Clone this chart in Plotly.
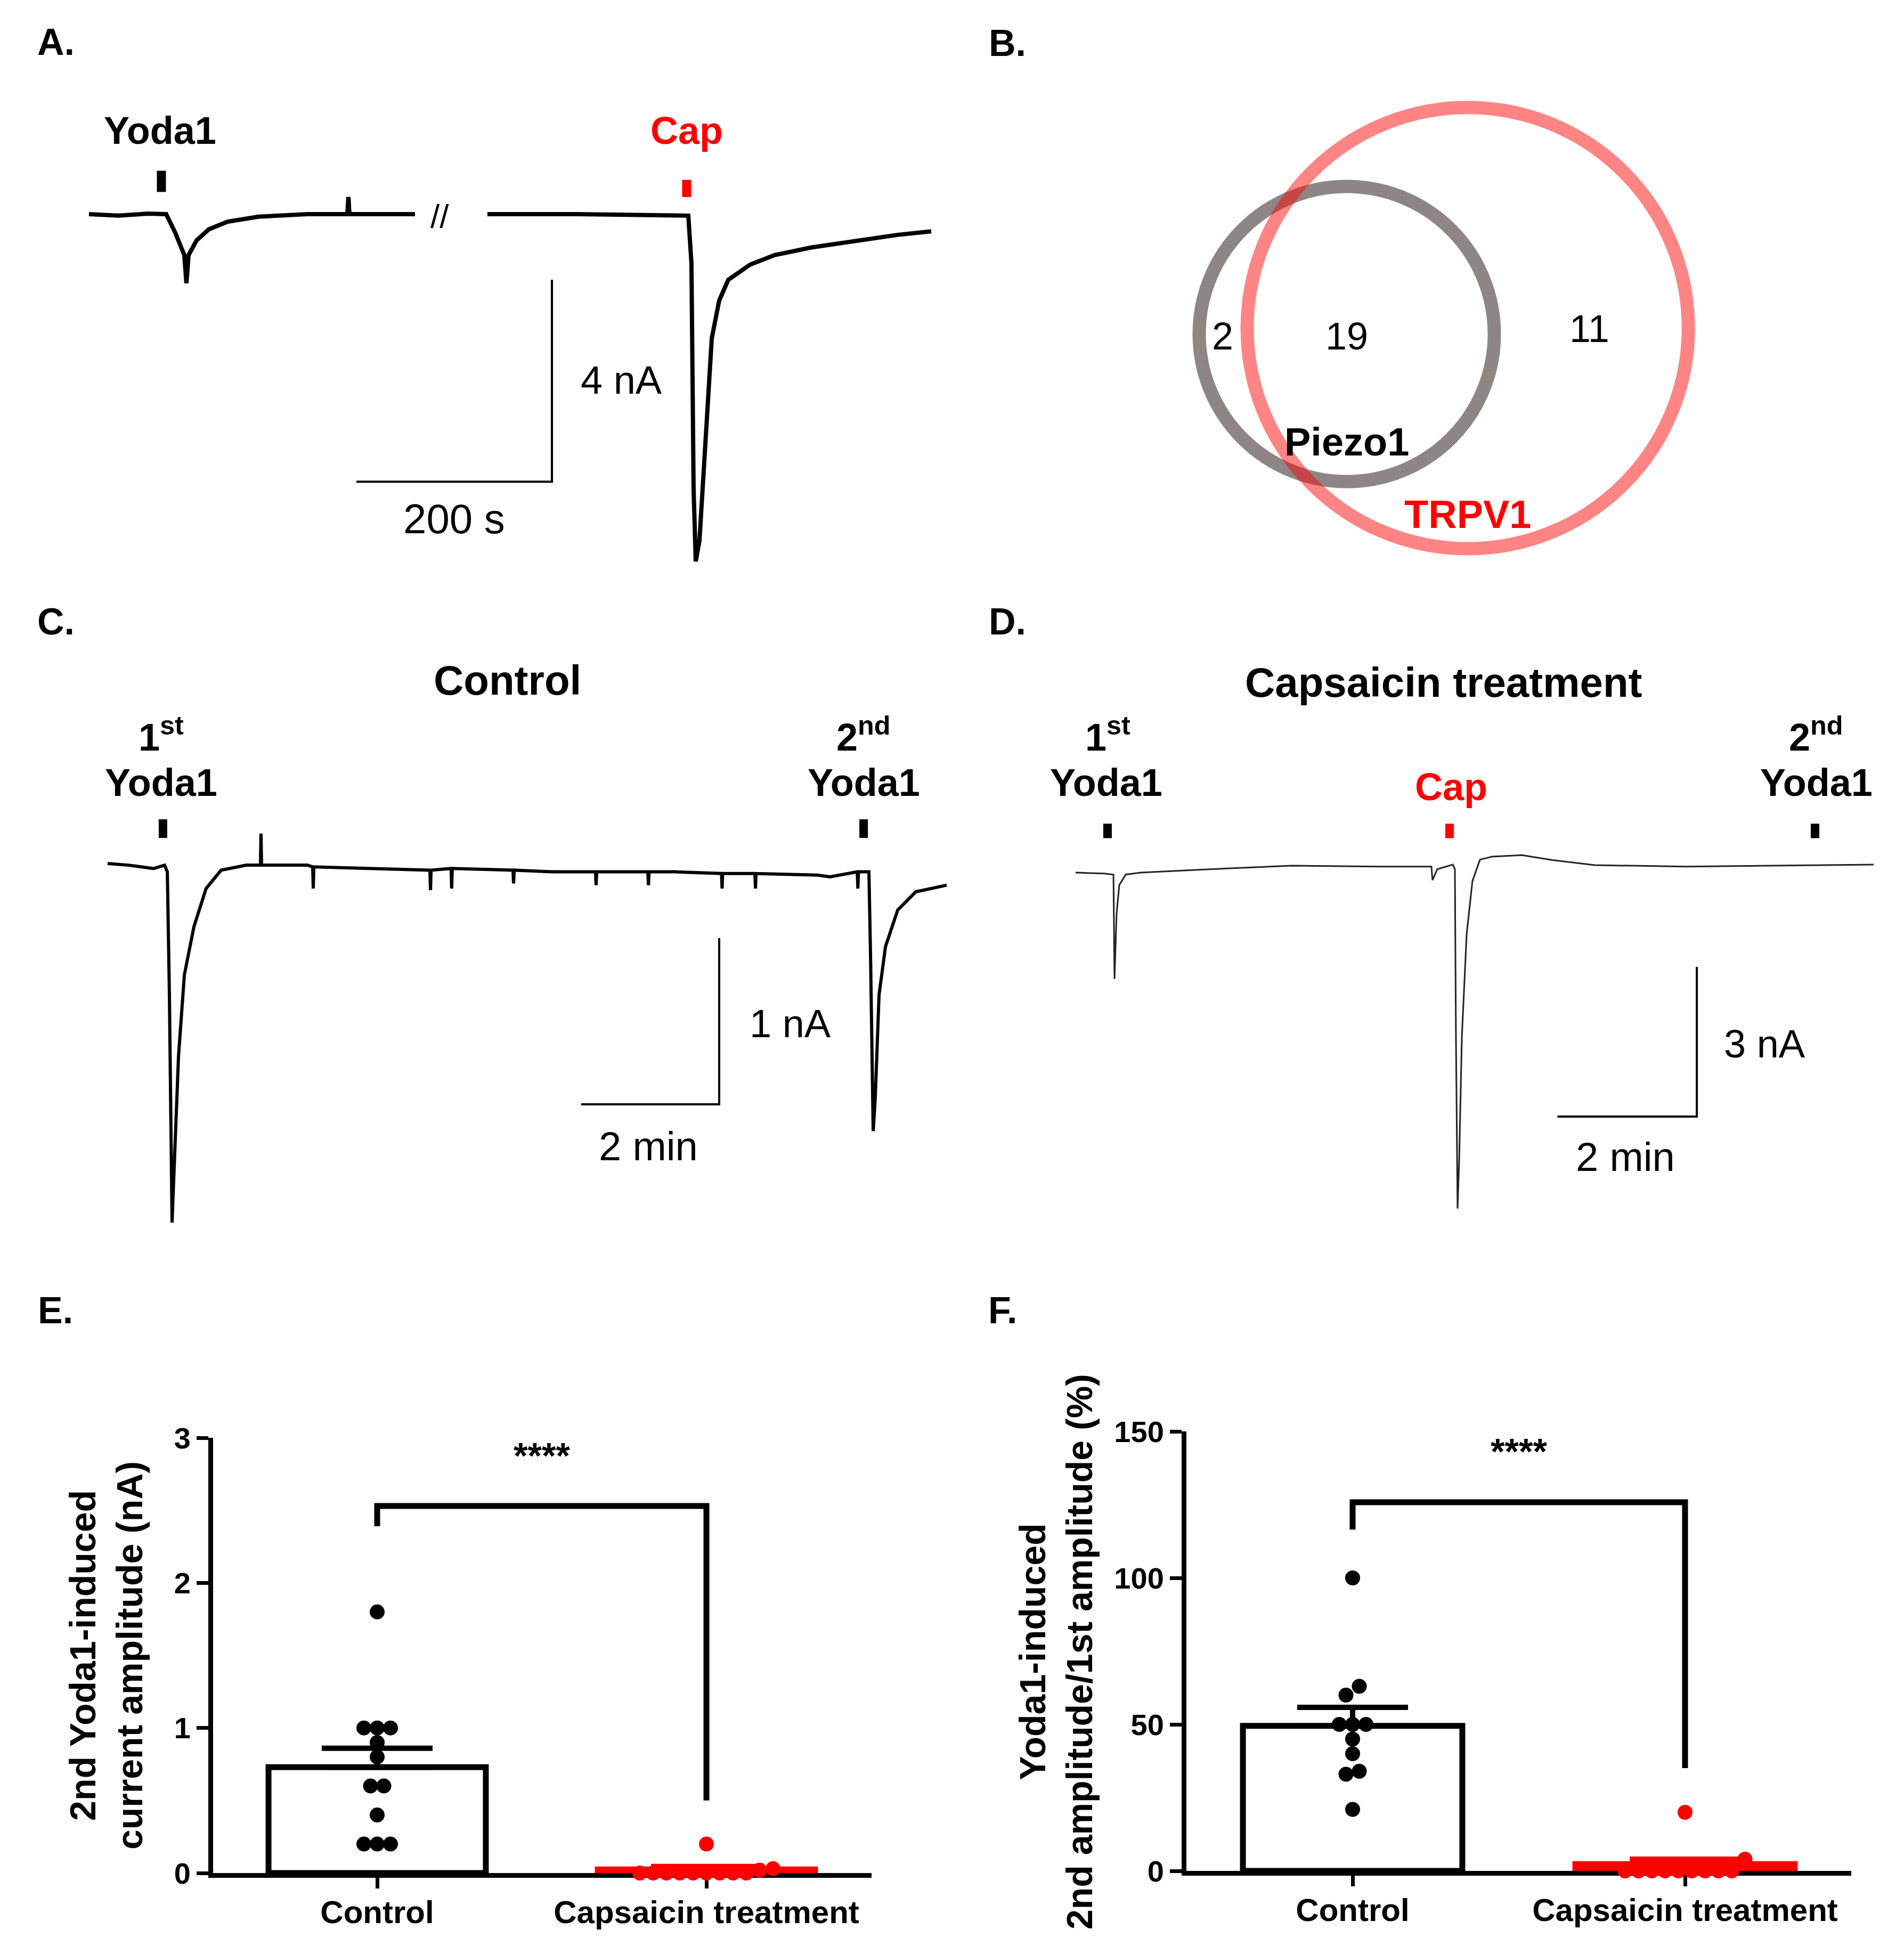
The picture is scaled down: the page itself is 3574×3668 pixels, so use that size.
import plotly.graph_objects as go

# ----------------------------------------------------------------------------
# DATA
# ----------------------------------------------------------------------------
# Panel A: whole-cell current (nA) vs time (s); None marks the recording break
a_time = [0, 30, 60, 79.0, 88.3, 94.3, 97.5, 99.7, 101.9, 110.1, 122.6, 141.7, 173.3,
          223.4, 264.3, 265.4, 266.5, 333.5, None,
          407.6, 500, 613.1, 616.3, 618.5, 620.7, 624.5, 631.1, 637.1, 644.7, 654.0,
          676.3, 701.4, 739.0, 789.6, 827.2, 861.6]
a_curr = [0, -0.03, 0.01, 0, -0.37, -0.66, -0.81, -1.37, -0.81, -0.52, -0.30, -0.15, -0.05,
          0, 0, 0.34, 0, 0, None,
          0, 0, -0.03, -0.97, -5.44, -6.88, -6.47, -4.32, -2.46, -1.71, -1.30,
          -1.00, -0.81, -0.66, -0.52, -0.41, -0.34]
a_yoda1_time = [74.1]
a_cap_time = [611.4]
a_scale_time = 200   # s
a_scale_curr = 4     # nA

# Panel B: Venn counts
venn_sets = ["Piezo1", "TRPV1"]
venn_counts = [2, 19, 11]   # Piezo1 only, both, TRPV1 only

# Panel C: control recording
c_time = [0, 18.5, 40, 49.5, 51.9, 53.7, 56.0, 58.3, 61.6, 66.7, 75.0, 85.6, 98.6, 120.4,
          132.8, 133.3, 133.8, 173.6, 178.2, 178.7, 179.2, 226.9, 280.1, 280.6, 281.1,
          298.5, 299.0, 299.5, 352.3, 352.8, 353.3, 387.5, 424.0, 424.5, 425.0,
          469.5, 470.0, 470.5, 494.0, 533.5, 534.0, 534.5, 562.5, 563.0, 563.5,
          617.0, 627.8, 651.5, 652.0, 652.5, 654.6, 661.6, 663.0, 665.3, 667.1,
          670.4, 676.0, 686.6, 702.3, 729.2]
c_curr = [0, -0.01, -0.03, -0.01, -0.05, -0.79, -2.16, -1.78, -1.16, -0.67, -0.38, -0.15, -0.04, -0.01,
          -0.01, 0.18, -0.01, -0.01, -0.02, -0.15, -0.02, -0.03, -0.04, -0.16, -0.04,
          -0.03, -0.15, -0.03, -0.04, -0.12, -0.04, -0.05, -0.05, -0.13, -0.05,
          -0.05, -0.13, -0.05, -0.05, -0.06, -0.15, -0.06, -0.06, -0.15, -0.06,
          -0.07, -0.08, -0.05, -0.15, -0.05, -0.05, -0.05, -0.55, -1.61, -1.41,
          -0.79, -0.50, -0.28, -0.17, -0.13]
c_yoda1_time = [48.1, 657.0]
c_scale_time = 120   # s (2 min)
c_scale_curr = 1     # nA

# Panel D: capsaicin treatment recording
d_time = [0, 24.8, 32.6, 33.5, 35.3, 37.6, 43.1, 56, 108, 186, 265, 306.4, 307.3, 311.5,
          324.8, 326.6, 327.5, 328.9, 330.3, 332.6, 336.7, 341.7, 348.2, 358.7, 384.4,
          410.6, 447.2, 525.2, 687.2]
d_curr = [0, -0.02, -0.04, -2.13, -0.82, -0.25, -0.04, 0, 0.06, 0.14, 0.12, 0.12, -0.15, 0.07,
          0.16, 0.07, -3.29, -6.73, -5.75, -3.29, -1.24, -0.17, 0.26, 0.32, 0.35,
          0.25, 0.15, 0.12, 0.16]
d_yoda1_time = [27.5, 636.7]
d_cap_time = [322.0]
d_scale_time = 120   # s (2 min)
d_scale_curr = 3     # nA

# Panels E/F: group summary
groups = ["Control", "Capsaicin treatment"]
e_control = [1.8, 1.0, 1.0, 1.0, 0.9, 0.8, 0.6, 0.6, 0.4, 0.2, 0.2, 0.2]
e_capsaicin = [0.2, 0.03, 0.02, 0, 0, 0, 0, 0, 0, 0, 0, 0]
e_mean = [0.73, 0.025]
e_sem = [0.13, 0.02]
e_ticks = [0, 1, 2, 3]

f_control = [100, 63, 60, 50, 50, 50, 45, 40, 34, 33, 21]
f_capsaicin = [20, 4, 0, 0, 0, 0, 0, 0, 0, 0, 0]
f_mean = [49.5, 2.3]
f_sem = [6.3, 1.7]
f_ticks = [0, 50, 100, 150]
sig_label = "****"

# ----------------------------------------------------------------------------
# LAYOUT HELPERS
# ----------------------------------------------------------------------------
W, H = 3574, 3668
FONT = "Liberation Sans, Arial, Helvetica, sans-serif"
RED = "#ff0000"


def xdom(p0, p1):
    return [p0 / W, p1 / W]


def ydom(top, bottom):
    return [1 - bottom / H, 1 - top / H]


def xr(p0, p1, apx, aval, ppu):
    return [aval + (p0 - apx) / ppu, aval + (p1 - apx) / ppu]


def yr(top, bottom, apx, aval, ppu):
    return [aval - (bottom - apx) / ppu, aval + (apx - top) / ppu]


def ann(text, px, py, size, bold=False, color="black", **kw):
    t = f"<b>{text}</b>" if bold else text
    d = dict(text=t, x=px / W, y=1 - py / H, xref="paper", yref="paper",
             showarrow=False, xanchor="center", yanchor="middle",
             font=dict(family=FONT, size=size, color=color))
    d.update(kw)
    return d


def swarm(values, ppu_y, ppu_x, dot_px=25, row_px=25):
    order = sorted(range(len(values)), key=lambda k: values[k])
    rows = []
    for k in order:
        if rows and (values[k] - values[rows[-1][0]]) * ppu_y < row_px:
            rows[-1].append(k)
        else:
            rows.append([k])
    off = [0.0] * len(values)
    for row in rows:
        n = len(row)
        for j, k in enumerate(row):
            off[k] = (j - (n - 1) / 2) * dot_px / ppu_x
    return off


fig = go.Figure()
annotations = []
shapes = []

hidden = dict(visible=False, showgrid=False, zeroline=False, fixedrange=True, automargin=False)

# pixel anchors for the trace panels
A_X0, A_PPS, A_Y0, A_PPN = 167, 1.835, 402, 94.75
C_X0, C_PPS, C_Y0, C_PPN = 202, 2.16, 1621, 312.0
D_X0, D_PPS, D_Y0, D_PPN = 2019, 2.18, 1638, 93.7

layout_axes = dict(
    xaxis=dict(domain=xdom(100, 1800), range=xr(100, 1800, A_X0, 0, A_PPS), anchor="y", **hidden),
    yaxis=dict(domain=ydom(250, 1100), range=yr(250, 1100, A_Y0, 0, A_PPN), anchor="x", **hidden),
    xaxis3=dict(domain=xdom(100, 1800), range=xr(100, 1800, C_X0, 0, C_PPS), anchor="y3", **hidden),
    yaxis3=dict(domain=ydom(1300, 2350), range=yr(1300, 2350, C_Y0, 0, C_PPN), anchor="x3", **hidden),
    xaxis4=dict(domain=xdom(1900, 3574), range=xr(1900, 3574, D_X0, 0, D_PPS), anchor="y4", **hidden),
    yaxis4=dict(domain=ydom(1300, 2350), range=yr(1300, 2350, D_Y0, 0, D_PPN), anchor="x4", **hidden),
)

# ---------------- Panel A ----------------
fig.add_trace(go.Scatter(x=a_time, y=a_curr, mode="lines", connectgaps=False,
                         line=dict(color="black", width=8), xaxis="x", yaxis="y"))
for t in a_yoda1_time:
    fig.add_trace(go.Scatter(x=[t, t], y=[0.44, 0.86], mode="lines",
                             line=dict(color="black", width=17), xaxis="x", yaxis="y"))
for t in a_cap_time:
    fig.add_trace(go.Scatter(x=[t, t], y=[0.34, 0.68], mode="lines",
                             line=dict(color=RED, width=17), xaxis="x", yaxis="y"))
A_SB_T, A_SB_I = 473.6, -5.30
fig.add_trace(go.Scatter(x=[A_SB_T - a_scale_time, A_SB_T, A_SB_T],
                         y=[A_SB_I, A_SB_I, A_SB_I + a_scale_curr], mode="lines",
                         line=dict(color="black", width=4), xaxis="x", yaxis="y"))
annotations += [
    ann("A.", 105, 79, 70, bold=True),
    ann("Yoda1", 300, 245, 72, bold=True),
    ann("Cap", 1289, 245, 72, bold=True, color=RED),
    ann("//", 825, 405, 62),
    ann(f"{a_scale_curr} nA", 1166, 714, 74),
    ann(f"{a_scale_time} s", 852, 974, 78),
]

# ---------------- Panel B (Venn) ----------------
B_U, B_CX, B_CY = 277, 2528, 627
layout_axes["xaxis2"] = dict(domain=xdom(1900, 3574), range=xr(1900, 3574, B_CX, 0, B_U), anchor="y2", **hidden)
layout_axes["yaxis2"] = dict(domain=ydom(60, 1150), range=yr(60, 1150, B_CY, 0, B_U), anchor="x2", **hidden)
circles = [((0.0, 0.0), 1.0, "#8e8686"), ((0.82, 0.04), 1.495, "rgba(255,0,0,0.48)")]
for (cx, cy), r, col in circles:
    shapes.append(dict(type="circle", xref="x2", yref="y2", x0=cx - r, x1=cx + r,
                       y0=cy - r, y1=cy + r, line=dict(color=col, width=25)))
annotations += [
    ann("B.", 1891, 81, 70, bold=True),
    ann(str(venn_counts[0]), 2295, 631, 72),
    ann(str(venn_counts[1]), 2528, 631, 72),
    ann(str(venn_counts[2]), 2983, 617, 72),
    ann(venn_sets[0], 2528, 830, 74, bold=True),
    ann(venn_sets[1], 2755, 966, 74, bold=True, color=RED),
]

# ---------------- Panel C ----------------
fig.add_trace(go.Scatter(x=c_time, y=c_curr, mode="lines",
                         line=dict(color="black", width=6), xaxis="x3", yaxis="y3"))
for t in c_yoda1_time:
    fig.add_trace(go.Scatter(x=[t, t], y=[0.154, 0.266], mode="lines",
                             line=dict(color="black", width=16), xaxis="x3", yaxis="y3"))
C_SB_T, C_SB_I = 531.5, -1.449
fig.add_trace(go.Scatter(x=[C_SB_T - c_scale_time, C_SB_T, C_SB_T],
                         y=[C_SB_I, C_SB_I, C_SB_I + c_scale_curr], mode="lines",
                         line=dict(color="black", width=4), xaxis="x3", yaxis="y3"))
annotations += [
    ann("C.", 105, 1167, 70, bold=True),
    ann("Control", 952, 1277, 78, bold=True),
    ann("1<sup>st</sup>", 302, 1378, 72, bold=True),
    ann("Yoda1", 302, 1469, 72, bold=True),
    ann("2<sup>nd</sup>", 1621, 1378, 72, bold=True),
    ann("Yoda1", 1621, 1469, 72, bold=True),
    ann(f"{c_scale_curr} nA", 1483, 1921, 74),
    ann(f"{c_scale_time // 60} min", 1217, 2151, 76),
]

# ---------------- Panel D ----------------
fig.add_trace(go.Scatter(x=d_time, y=d_curr, mode="lines",
                         line=dict(color="#222222", width=3), xaxis="x4", yaxis="y4"))
for t in d_yoda1_time:
    fig.add_trace(go.Scatter(x=[t, t], y=[0.69, 0.98], mode="lines",
                             line=dict(color="black", width=16), xaxis="x4", yaxis="y4"))
for t in d_cap_time:
    fig.add_trace(go.Scatter(x=[t, t], y=[0.69, 0.98], mode="lines",
                             line=dict(color=RED, width=16), xaxis="x4", yaxis="y4"))
D_SB_T, D_SB_I = 534.9, -4.888
fig.add_trace(go.Scatter(x=[D_SB_T - d_scale_time, D_SB_T, D_SB_T],
                         y=[D_SB_I, D_SB_I, D_SB_I + d_scale_curr], mode="lines",
                         line=dict(color="black", width=4), xaxis="x4", yaxis="y4"))
annotations += [
    ann("D.", 1891, 1167, 70, bold=True),
    ann("Capsaicin treatment", 2710, 1281, 78, bold=True),
    ann("1<sup>st</sup>", 2079, 1378, 72, bold=True),
    ann("Yoda1", 2076, 1469, 72, bold=True),
    ann("Cap", 2724, 1477, 72, bold=True, color=RED),
    ann("2<sup>nd</sup>", 3409, 1378, 72, bold=True),
    ann("Yoda1", 3409, 1469, 72, bold=True),
    ann(f"{d_scale_curr} nA", 3312, 1959, 74),
    ann(f"{d_scale_time // 60} min", 3051, 2171, 76),
]


# ---------------- Panels E / F ----------------
def summary_panel(xa, ya, ctrl, cap, means, sems, ppu_x, ppu_y, bracket, star_y):
    colors = ["black", RED]
    fills = ["white", RED]
    for gi, col in enumerate(colors):
        fig.add_trace(go.Bar(x=[gi], y=[means[gi]], width=0.66, xaxis=xa, yaxis=ya,
                             marker=dict(color=fills[gi], line=dict(color=col, width=11)),
                             error_y=dict(type="data", array=[sems[gi]], arrayminus=[0],
                                          symmetric=False, color=col, thickness=10, width=104)))
    for gi, (vals, col) in enumerate(zip([ctrl, cap], colors)):
        off = swarm(vals, ppu_y, ppu_x)
        fig.add_trace(go.Scatter(x=[gi + o for o in off], y=vals, mode="markers",
                                 marker=dict(color=col, size=28, line=dict(width=0)),
                                 cliponaxis=False, xaxis=xa, yaxis=ya))
    y_left, y_top, y_right = bracket
    fig.add_trace(go.Scatter(x=[0, 0, 1, 1], y=[y_left, y_top, y_top, y_right], mode="lines",
                             line=dict(color="black", width=11), cliponaxis=False,
                             xaxis=xa, yaxis=ya))
    annotations.append(dict(text=f"<b>{sig_label}</b>", x=0.5, y=star_y, xref=xa, yref=ya,
                            showarrow=False, font=dict(family=FONT, size=68, color="black")))


axis_common = dict(showline=True, linecolor="black", linewidth=9, showgrid=False, zeroline=False,
                   ticks="outside", tickcolor="black", fixedrange=True, layer="below traces",
                   automargin=False)

# E
E_XPX, E_PPU_X = 708, 618
E_TOP, E_BOT = 2699, 3516
E_PPU_Y = (E_BOT - E_TOP) / (e_ticks[-1] - e_ticks[0])
layout_axes["xaxis5"] = dict(domain=xdom(400, 1636), range=xr(400, 1636, E_XPX, 0, E_PPU_X), anchor="y5",
                             tickvals=[0, 1], ticktext=[f"<b>{g}</b>" for g in groups],
                             ticklen=20, tickwidth=7, ticklabelstandoff=-7,
                             tickfont=dict(family=FONT, size=60, color="black"), **axis_common)
layout_axes["yaxis5"] = dict(domain=ydom(E_TOP, E_BOT), range=[e_ticks[0], e_ticks[-1]], anchor="x5",
                             tickvals=e_ticks, ticktext=[f"<b>{v}</b>" for v in e_ticks],
                             ticklen=22, tickwidth=7, tickfont=dict(family=FONT, size=56, color="black"),
                             **axis_common)
summary_panel("x5", "y5", e_control, e_capsaicin, e_mean, e_sem, E_PPU_X, E_PPU_Y,
              (2.39, 2.53, 0.50), 2.88)
annotations += [
    ann("E.", 104, 2460, 70, bold=True),
    ann("2nd Yoda1-induced<br>current amplitude (nA)", 199, 3108, 68, bold=True, textangle=-90),
]

# F
F_XPX, F_PPU_X = 2539, 624
F_TOP, F_BOT = 2687, 3512
F_PPU_Y = (F_BOT - F_TOP) / (f_ticks[-1] - f_ticks[0])
layout_axes["xaxis6"] = dict(domain=xdom(2227, 3475), range=xr(2227, 3475, F_XPX, 0, F_PPU_X), anchor="y6",
                             tickvals=[0, 1], ticktext=[f"<b>{g}</b>" for g in groups],
                             ticklen=20, tickwidth=7, ticklabelstandoff=-7,
                             tickfont=dict(family=FONT, size=60, color="black"), **axis_common)
layout_axes["yaxis6"] = dict(domain=ydom(F_TOP, F_BOT), range=[f_ticks[0], f_ticks[-1]], anchor="x6",
                             tickvals=f_ticks, ticktext=[f"<b>{v}</b>" for v in f_ticks],
                             ticklen=22, tickwidth=7, tickfont=dict(family=FONT, size=56, color="black"),
                             **axis_common)
summary_panel("x6", "y6", f_control, f_capsaicin, f_mean, f_sem, F_PPU_X, F_PPU_Y,
              (116.5, 125.8, 35.1), 143.3)
annotations += [
    ann("F.", 1882, 2460, 70, bold=True),
    ann("Yoda1-induced<br>2nd amplitude/1st amplitude (%)", 1982, 3100, 68, bold=True, textangle=-90),
]

fig.update_layout(
    width=W, height=H, margin=dict(l=0, r=0, t=0, b=0, pad=0, autoexpand=False),
    paper_bgcolor="white", plot_bgcolor="rgba(0,0,0,0)",
    showlegend=False, barmode="overlay",
    font=dict(family=FONT, color="black"),
    annotations=annotations, shapes=shapes,
    **layout_axes,
)

fig.write_html("out.html", config={"displayModeBar": False, "staticPlot": True},
               post_script="document.body.style.margin='0px';")
